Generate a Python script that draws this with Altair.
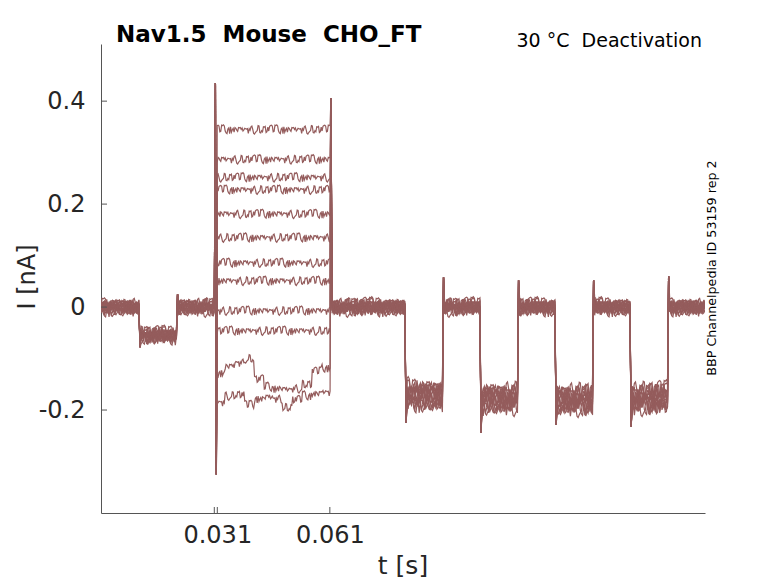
import altair as alt
import pandas as pd

# voltage-protocol segments: edges [s], mean current [nA] (None = test step), transient at segment start
seg_edges = [0.0, 0.0104, 0.0204, 0.0305, 0.0613, 0.0813, 0.0913, 0.1013,
             0.1113, 0.1213, 0.1313, 0.1413, 0.1513, 0.161]
seg_level = [0.0, -0.055, 0.0, None, 0.0, -0.172, 0.0, -0.178, 0.0, -0.18, 0.0, -0.178, 0.0]
seg_spike = [None, -0.078, 0.025, 0.435, 0.406, -0.225, 0.058, -0.244, 0.052, -0.229, 0.052, -0.232, 0.06]
seg_samples = [34, 34, 34, 130, 68, 34, 34, 34, 34, 34, 34, 34, 34]
step_dip = -0.325

# test-step current of each sweep [nA]
step_level = [0.345, 0.287, 0.252, 0.228, 0.181, 0.135, 0.086, 0.051, -0.007, -0.046, None, None]
# the two lowest sweeps drift during the step (12 sub-blocks)
step_drift_a = [-0.128, -0.115, -0.108, -0.100, -0.140, -0.155, -0.158, -0.160, -0.158, -0.150, -0.125, -0.118]
step_drift_b = [-0.185, -0.172, -0.170, -0.190, -0.178, -0.175, -0.178, -0.195, -0.180, -0.172, -0.168, -0.165]

# per-sweep offsets around the holding and the negative-step levels [nA]
base_offset = [0.004, -0.006, 0.002, 0.008, -0.003, 0.000, -0.008, 0.005, -0.002, 0.006, -0.005, 0.001]
neg_offset = [0.012, -0.015, 0.005, 0.020, -0.008, 0.000, -0.018, 0.010, -0.004, 0.015, -0.012, 0.003]

# recording noise [nA]
noise = [0.004, -0.006, 0.009, -0.002, 0.011, -0.008, 0.003, -0.011, 0.006, 0.000,
         -0.005, 0.010, -0.009, 0.002, 0.007, -0.004, -0.010, 0.005, 0.012, -0.003,
         0.001, -0.007, 0.008, -0.012, 0.004, 0.009, -0.006, 0.002, -0.001, 0.010,
         -0.008, 0.005, -0.004, 0.007, -0.010, 0.003, 0.011, -0.005, 0.000, -0.009,
         0.006, 0.002, -0.007, 0.009, -0.003, 0.004, -0.011, 0.008, -0.002, 0.005,
         -0.006, 0.010, -0.004, 0.001, -0.008, 0.007, 0.003, -0.005, 0.009, -0.001]

x_ticks = [0.0302, 0.031, 0.061]
y_ticks = [-0.2, 0.0, 0.2, 0.4]

rows = []
for s in range(len(step_level)):
    k = 0
    for i in range(len(seg_level)):
        a, b = seg_edges[i], seg_edges[i + 1]
        n = seg_samples[i]
        for j in range(n):
            t = a + (b - a) * j / n
            nz = noise[(7 * j + 13 * s + 5 * i) % len(noise)]
            lvl = seg_level[i]
            if lvl is None:
                if step_level[s] is not None:
                    base = step_level[s]
                else:
                    drift = step_drift_a if s == 10 else step_drift_b
                    base = drift[min(j * 12 // n, 11)]
                v = base + 0.75 * nz
            elif lvl > -0.1:
                v = lvl + base_offset[s] + nz
            else:
                v = lvl + neg_offset[s] + 1.4 * nz
            if j == 0 and seg_spike[i] is not None:
                v = seg_spike[i]
            if lvl is None and j == 1:
                v = step_dip
            rows.append({"t": t, "I": v, "sweep": s, "k": k})
            k += 1
    rows.append({"t": seg_edges[-1], "I": base_offset[s], "sweep": s, "k": k})

df = pd.DataFrame(rows)

xscale = alt.Scale(domain=[0, 0.161], nice=False, zero=False)
yscale = alt.Scale(domain=[-0.4, 0.511], nice=False, zero=False)
font = "DejaVu Sans"
label_color = "#262626"
axis_color = "#555555"

xaxis = alt.Axis(values=x_ticks, ticks=False, grid=False, domainColor=axis_color, title=None,
                 labelFont=font, labelFontSize=24, labelColor=label_color, labelPadding=10,
                 labelExpr="datum.value < 0.0305 ? '' : format(datum.value, '.3f')")
yaxis = alt.Axis(values=y_ticks, ticks=False, grid=False, domainColor=axis_color, title=None,
                 labelFont=font, labelFontSize=24, labelColor=label_color, labelPadding=16,
                 labelExpr="datum.value == 0 ? '0' : (datum.value < 0 ? '-' : '') + format(abs(datum.value), '.1f')")

traces = alt.Chart(df).mark_line(color="#945c5c", strokeWidth=1.2, clip=True).encode(
    x=alt.X("t:Q", scale=xscale, axis=xaxis),
    y=alt.Y("I:Q", scale=yscale, axis=yaxis),
    detail="sweep:N",
    order="k:Q",
)

# inward tick marks
xt = alt.Chart(pd.DataFrame({"t": x_ticks})).mark_rule(color=axis_color, strokeWidth=1).encode(
    x=alt.X("t:Q", scale=xscale, axis=xaxis), y=alt.value(469), y2=alt.value(463))
yt = alt.Chart(pd.DataFrame({"I": y_ticks})).mark_rule(color=axis_color, strokeWidth=1).encode(
    y=alt.Y("I:Q", scale=yscale, axis=yaxis), x=alt.value(0), x2=alt.value(6))

nb = "\u00a0"
one = pd.DataFrame({"a": [0]})
title = alt.Chart(one).mark_text(text=f"Nav1.5{nb}{nb}Mouse{nb}{nb}CHO_FT", font=font, fontSize=23,
                                 fontWeight="bold", align="left", baseline="alphabetic",
                                 color="black").encode(x=alt.value(15), y=alt.value(-2))
cond = alt.Chart(one).mark_text(text=f"30 °C{nb}{nb}Deactivation", font=font, fontSize=19,
                                align="right", baseline="alphabetic", color="black").encode(
    x=alt.value(601), y=alt.value(3))
rep = alt.Chart(one).mark_text(text="BBP Channelpedia ID 53159 rep 2", font=font, fontSize=12.7, angle=270,
                               align="center", baseline="alphabetic", color="black").encode(
    x=alt.value(615), y=alt.value(224))
xtitle = alt.Chart(one).mark_text(text="t [s]", font=font, fontSize=25, align="center",
                                  baseline="alphabetic", color=label_color).encode(
    x=alt.value(302), y=alt.value(530))
ytitle = alt.Chart(one).mark_text(text="I [nA]", font=font, fontSize=24, angle=270, align="center",
                                  baseline="alphabetic", color=label_color).encode(
    x=alt.value(-66), y=alt.value(233))

chart = alt.layer(traces, xt, yt, title, cond, rep, xtitle, ytitle).properties(
    width=604, height=469,
    autosize=alt.AutoSizeParams(type="none"),
    padding={"left": 93, "top": 36, "right": 65, "bottom": 72},
).configure_view(stroke=None)

chart.save("out.html", embed_options={"renderer": "svg", "actions": False})
